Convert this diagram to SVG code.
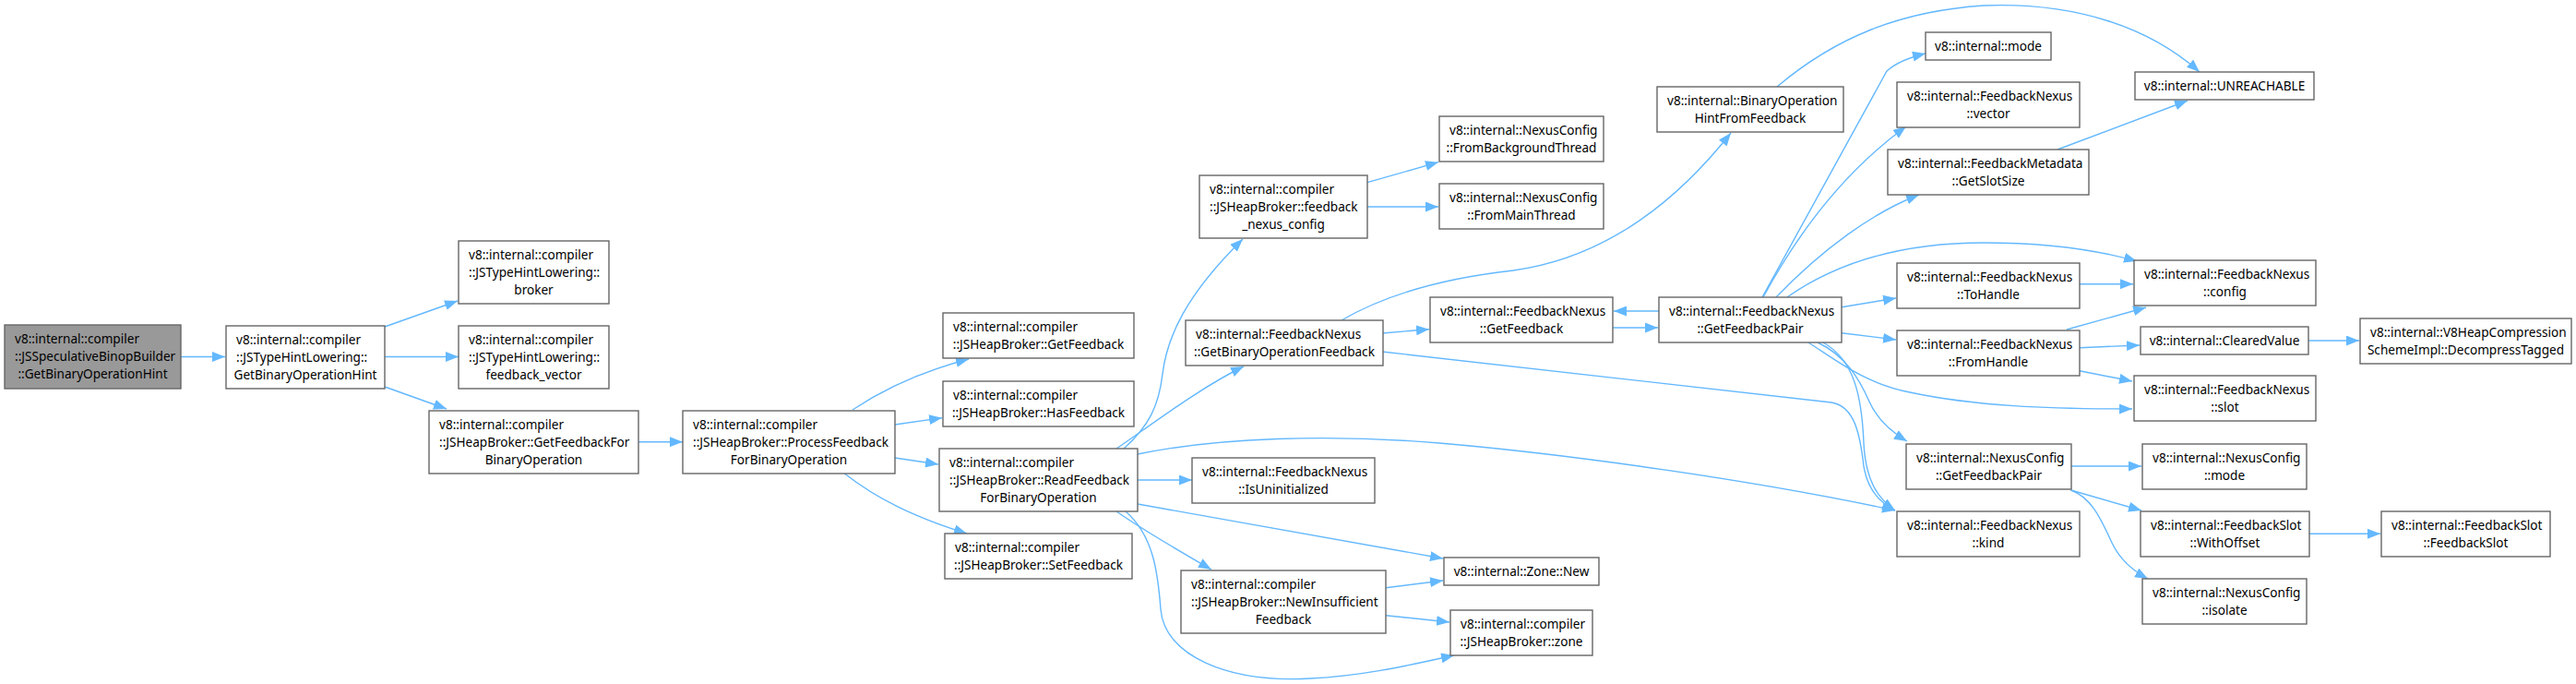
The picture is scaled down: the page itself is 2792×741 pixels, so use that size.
<svg xmlns="http://www.w3.org/2000/svg" width="2792" height="741" viewBox="0 0 2792 741">
<defs>
<style>
.n rect{fill:#ffffff;stroke:#666666;stroke-width:1.4}
.g rect{fill:#999999;stroke:#666666;stroke-width:1.4}
text{font-family:"Noto Sans","Open Sans","DejaVu Sans",sans-serif;font-size:13.6px;fill:#000000}
.c{text-anchor:middle}
#edges path{fill:none;stroke:#63b8ff;stroke-width:1.4;marker-end:url(#arr)}
</style>
<marker id="arr" markerUnits="userSpaceOnUse" markerWidth="15" markerHeight="11" refX="14" refY="5.5" orient="auto" viewBox="0 0 15 11">
<path d="M0,0 L14,5.5 L0,11 z" fill="#63b8ff"/>
</marker>
</defs>
<rect x="0" y="0" width="2792" height="741" fill="#ffffff"/>
<g id="edges">
<path d="M196,386.5 L244,386.5"/>
<path d="M417,354 L496,326"/>
<path d="M417,386.5 L497,386.5"/>
<path d="M417,419 L484,443"/>
<path d="M692,478.7 L740,478.7"/>
<path d="M924,444 C960,420 1000,402 1050,389"/>
<path d="M970,460 L1021,452.7"/>
<path d="M970,496 L1017,503"/>
<path d="M915,512.7 C950,540 990,560 1048,578"/>
<path d="M1218,486 C1245,462 1256,440 1260,405 C1265,365 1285,320 1347,259"/>
<path d="M1210,486 C1240,466 1300,420 1348,397"/>
<path d="M1233,520 L1292,520"/>
<path d="M1233,492 C1320,474 1440,470 1560,480 C1700,492 1900,520 2054,553"/>
<path d="M1233,546 L1564,605"/>
<path d="M1210,554 C1240,575 1280,598 1313,617"/>
<path d="M1220,554 C1250,580 1255,620 1258,660 C1262,710 1330,740 1420,735 C1480,732 1530,720 1576,710"/>
<path d="M1454,347 C1500,320 1560,302 1640,293 C1720,282 1800,240 1876,144"/>
<path d="M1498,361 L1549,356.7"/>
<path d="M1498,381 L1985,436 C2010,440 2016,470 2020,505 C2024,530 2038,545 2054,553"/>
<path d="M1748,355 L1797,355"/>
<path d="M1798,337 L1749,337"/>
<path d="M1910,322 L2045,77 C2055,68 2070,62 2087,58"/>
<path d="M1911,322 C1950,250 2000,185 2066,137"/>
<path d="M1925,322 C1975,270 2030,230 2080,211"/>
<path d="M1937,322 C1990,285 2060,263 2150,263 C2220,263 2270,270 2316,283"/>
<path d="M1996,332.7 L2055,323"/>
<path d="M1996,360.7 L2055,368"/>
<path d="M1960,371 C1990,390 2020,415 2070,425 C2140,440 2220,443 2311,443"/>
<path d="M1970,371 C2000,385 2015,410 2026,435 C2035,455 2050,468 2067,478"/>
<path d="M1976,371 C2010,390 2018,430 2020,480 C2022,520 2035,540 2054,553"/>
<path d="M1926,94 C1990,40 2060,12 2150,6 C2250,2 2330,30 2384,78"/>
<path d="M2230,162 L2371,109"/>
<path d="M2254,307.7 L2312,307.7"/>
<path d="M2240,357 L2326,333"/>
<path d="M2254,376.7 L2319,374"/>
<path d="M2254,401.7 L2311,413"/>
<path d="M2501.5,369 L2557,369"/>
<path d="M2244.5,505 L2321,505"/>
<path d="M2244.5,531 L2321,553"/>
<path d="M2244.5,531 C2270,540 2280,570 2290,590 C2300,610 2315,620 2328,627"/>
<path d="M2502.5,578.3 L2580,578.3"/>
<path d="M1482,197.7 L1559,175.7"/>
<path d="M1482,224 L1559,224"/>
<path d="M1502,636.7 L1564,629"/>
<path d="M1502,666.7 L1571,674"/>
</g>
<g id="nA" class="g"><rect x="5" y="352" width="191" height="69"/><text x="16" y="372">v8::internal::compiler</text><text x="16" y="391">::JSSpeculativeBinopBuilder</text><text class="c" x="100.5" y="410">::GetBinaryOperationHint</text></g>
<g id="nB" class="n"><rect x="245" y="353" width="172" height="68"/><text x="256" y="372.5">v8::internal::compiler</text><text x="256" y="391.5">::JSTypeHintLowering::</text><text class="c" x="331" y="410.5">GetBinaryOperationHint</text></g>
<g id="nC" class="n"><rect x="497" y="261" width="163" height="68"/><text x="508" y="280.5">v8::internal::compiler</text><text x="508" y="299.5">::JSTypeHintLowering::</text><text class="c" x="578.5" y="318.5">broker</text></g>
<g id="nD" class="n"><rect x="497" y="353" width="163" height="68"/><text x="508" y="372.5">v8::internal::compiler</text><text x="508" y="391.5">::JSTypeHintLowering::</text><text class="c" x="578.5" y="410.5">feedback_vector</text></g>
<g id="nE" class="n"><rect x="465" y="445" width="227" height="68"/><text x="476" y="464.5">v8::internal::compiler</text><text x="476" y="483.5">::JSHeapBroker::GetFeedbackFor</text><text class="c" x="578.5" y="502.5">BinaryOperation</text></g>
<g id="nF" class="n"><rect x="740" y="445" width="230" height="68"/><text x="751" y="464.5">v8::internal::compiler</text><text x="751" y="483.5">::JSHeapBroker::ProcessFeedback</text><text class="c" x="855" y="502.5">ForBinaryOperation</text></g>
<g id="nG" class="n"><rect x="1022" y="339" width="207" height="49"/><text x="1033" y="359">v8::internal::compiler</text><text class="c" x="1125.5" y="378">::JSHeapBroker::GetFeedback</text></g>
<g id="nH" class="n"><rect x="1022" y="413" width="207" height="49"/><text x="1033" y="433">v8::internal::compiler</text><text class="c" x="1125.5" y="452">::JSHeapBroker::HasFeedback</text></g>
<g id="nI" class="n"><rect x="1018" y="486" width="215" height="68"/><text x="1029" y="505.5">v8::internal::compiler</text><text x="1029" y="524.5">::JSHeapBroker::ReadFeedback</text><text class="c" x="1125.5" y="543.5">ForBinaryOperation</text></g>
<g id="nJ" class="n"><rect x="1024" y="578" width="203" height="49"/><text x="1035" y="598">v8::internal::compiler</text><text class="c" x="1125.5" y="617">::JSHeapBroker::SetFeedback</text></g>
<g id="nK" class="n"><rect x="1285" y="347" width="214" height="49"/><text x="1296" y="367">v8::internal::FeedbackNexus</text><text class="c" x="1392" y="386">::GetBinaryOperationFeedback</text></g>
<g id="nL" class="n"><rect x="1292" y="496" width="198" height="49"/><text x="1303" y="516">v8::internal::FeedbackNexus</text><text class="c" x="1391" y="535">::IsUninitialized</text></g>
<g id="nM" class="n"><rect x="1300" y="190" width="182" height="68"/><text x="1311" y="209.5">v8::internal::compiler</text><text x="1311" y="228.5">::JSHeapBroker::feedback</text><text class="c" x="1391" y="247.5">_nexus_config</text></g>
<g id="nN" class="n"><rect x="1560" y="126" width="178" height="49"/><text x="1571" y="146">v8::internal::NexusConfig</text><text class="c" x="1649" y="165">::FromBackgroundThread</text></g>
<g id="nO" class="n"><rect x="1560" y="199" width="178" height="49"/><text x="1571" y="219">v8::internal::NexusConfig</text><text class="c" x="1649" y="238">::FromMainThread</text></g>
<g id="nP" class="n"><rect x="1796" y="94" width="202" height="49"/><text x="1807" y="114">v8::internal::BinaryOperation</text><text class="c" x="1897" y="133">HintFromFeedback</text></g>
<g id="nQ" class="n"><rect x="1550" y="322" width="198" height="49"/><text x="1561" y="342">v8::internal::FeedbackNexus</text><text class="c" x="1649" y="361">::GetFeedback</text></g>
<g id="nR" class="n"><rect x="1798" y="322" width="198" height="49"/><text x="1809" y="342">v8::internal::FeedbackNexus</text><text class="c" x="1897" y="361">::GetFeedbackPair</text></g>
<g id="nS" class="n"><rect x="1565" y="604" width="168" height="30"/><text class="c" x="1649" y="624">v8::internal::Zone::New</text></g>
<g id="nT" class="n"><rect x="1280" y="618" width="222" height="68"/><text x="1291" y="637.5">v8::internal::compiler</text><text x="1291" y="656.5">::JSHeapBroker::NewInsufficient</text><text class="c" x="1391" y="675.5">Feedback</text></g>
<g id="nU" class="n"><rect x="1572" y="661" width="154" height="49"/><text x="1583" y="681">v8::internal::compiler</text><text class="c" x="1649" y="700">::JSHeapBroker::zone</text></g>
<g id="nV" class="n"><rect x="2087" y="35" width="136" height="30"/><text class="c" x="2155" y="55">v8::internal::mode</text></g>
<g id="nW" class="n"><rect x="2314" y="78" width="194" height="30"/><text class="c" x="2411" y="98">v8::internal::UNREACHABLE</text></g>
<g id="nX" class="n"><rect x="2056" y="89" width="198" height="49"/><text x="2067" y="109">v8::internal::FeedbackNexus</text><text class="c" x="2155" y="128">::vector</text></g>
<g id="nY" class="n"><rect x="2046" y="162" width="218" height="49"/><text x="2057" y="182">v8::internal::FeedbackMetadata</text><text class="c" x="2155" y="201">::GetSlotSize</text></g>
<g id="nZ" class="n"><rect x="2313" y="282" width="197" height="49"/><text x="2324" y="302">v8::internal::FeedbackNexus</text><text class="c" x="2411.5" y="321">::config</text></g>
<g id="nAA" class="n"><rect x="2056" y="285" width="198" height="49"/><text x="2067" y="305">v8::internal::FeedbackNexus</text><text class="c" x="2155" y="324">::ToHandle</text></g>
<g id="nAB" class="n"><rect x="2056" y="358" width="198" height="49"/><text x="2067" y="378">v8::internal::FeedbackNexus</text><text class="c" x="2155" y="397">::FromHandle</text></g>
<g id="nAC" class="n"><rect x="2320" y="354" width="182" height="30"/><text class="c" x="2411" y="374">v8::internal::ClearedValue</text></g>
<g id="nAD" class="n"><rect x="2558" y="345" width="229" height="49"/><text x="2569" y="365">v8::internal::V8HeapCompression</text><text class="c" x="2672.5" y="384">SchemeImpl::DecompressTagged</text></g>
<g id="nAE" class="n"><rect x="2313" y="407" width="197" height="49"/><text x="2324" y="427">v8::internal::FeedbackNexus</text><text class="c" x="2411.5" y="446">::slot</text></g>
<g id="nAF" class="n"><rect x="2066" y="481" width="179" height="49"/><text x="2077" y="501">v8::internal::NexusConfig</text><text class="c" x="2155.5" y="520">::GetFeedbackPair</text></g>
<g id="nAG" class="n"><rect x="2322" y="481" width="178" height="49"/><text x="2333" y="501">v8::internal::NexusConfig</text><text class="c" x="2411" y="520">::mode</text></g>
<g id="nAH" class="n"><rect x="2056" y="554" width="198" height="49"/><text x="2067" y="574">v8::internal::FeedbackNexus</text><text class="c" x="2155" y="593">::kind</text></g>
<g id="nAI" class="n"><rect x="2320" y="554" width="183" height="49"/><text x="2331" y="574">v8::internal::FeedbackSlot</text><text class="c" x="2411.5" y="593">::WithOffset</text></g>
<g id="nAJ" class="n"><rect x="2581" y="554" width="183" height="49"/><text x="2592" y="574">v8::internal::FeedbackSlot</text><text class="c" x="2672.5" y="593">::FeedbackSlot</text></g>
<g id="nAK" class="n"><rect x="2322" y="627" width="178" height="49"/><text x="2333" y="647">v8::internal::NexusConfig</text><text class="c" x="2411" y="666">::isolate</text></g>
</svg>
